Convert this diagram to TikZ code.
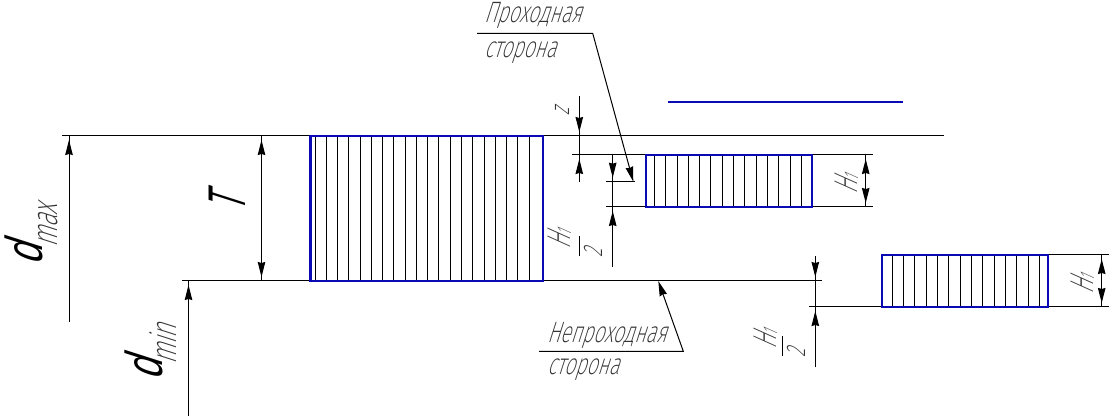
\documentclass[tikz,border=0pt]{standalone}
\usepackage{fontspec}
\usetikzlibrary{arrows.meta}
\newfontfamily\gostthin[FakeSlant=0.32,FakeStretch=0.66]{Fira Sans ExtraLight}
\newfontfamily\gosth[FakeSlant=0.45,FakeStretch=0.62]{Fira Sans ExtraLight}
\newfontfamily\gostd[FakeSlant=0.32,FakeStretch=0.72]{Liberation Sans}
\newfontfamily\gostt[FakeSlant=0.32,FakeStretch=0.5]{Liberation Sans}
\definecolor{hblue}{HTML}{0A0AB4}
\definecolor{tgray}{HTML}{333333}
\newcommand{\subone}{\raisebox{-1pt}{\fontsize{20}{20}\selectfont 1}}
\tikzset{
  thinline/.style={black,line width=1pt},
  headtip/.style={-{Stealth[length=15pt,width=7.5pt,inset=1pt]}},
  dimtip/.style={thinline,headtip,shorten >=4pt},
  leadertip/.style={thinline,headtip},
  bluebox/.style={hblue,line width=2.3pt},
  hatchline/.style={black,line width=1pt},
  txt/.style={inner sep=0pt,outer sep=0pt,text=tgray,font=\gostthin\fontsize{29.5}{29.5}\selectfont},
  rtxt/.style={txt,rotate=90},
  rsmall/.style={rtxt,font=\gostthin\fontsize{27}{27}\selectfont},
  rhh/.style={rtxt,font=\gosth\fontsize{33}{33}\selectfont},
  rsubs/.style={rtxt,font=\gostthin\fontsize{36}{36}\selectfont},
  rd/.style={inner sep=0pt,outer sep=0pt,rotate=90,text=black,font=\gostd\fontsize{52}{52}\selectfont},
  rt/.style={inner sep=0pt,outer sep=0pt,rotate=90,text=black,font=\gostt\fontsize{53}{53}\selectfont},
}
\begin{document}
\begin{tikzpicture}[x=1pt,y=-1pt]
\useasboundingbox (0,0) rectangle (1111,419);
% reference lines
\coordinate (topL) at (62,136); \coordinate (topR) at (944,136);
\coordinate (botL) at (182,281); \coordinate (botR) at (822,281);
\draw[thinline] (topL) -- (topR);
\draw[thinline] (botL) -- (botR);
% extension lines
\coordinate (a1) at (572,155); \coordinate (a2) at (646,155);
\coordinate (a3) at (812,155); \coordinate (a4) at (873,155);
\coordinate (b1) at (606,207); \coordinate (b2) at (646,207);
\coordinate (b3) at (812,207); \coordinate (b4) at (873,207);
\coordinate (c1) at (606,181.7); \coordinate (c2) at (635,181.7);
\coordinate (e1) at (809,307); \coordinate (e2) at (881.5,307);
\coordinate (e3) at (1048,255); \coordinate (e4) at (1109,255);
\coordinate (e5) at (1048,307); \coordinate (e6) at (1109,307);
\draw[thinline] (a1)--(a2) (a3)--(a4) (b1)--(b2) (b3)--(b4) (c1)--(c2) (e1)--(e2) (e3)--(e4) (e5)--(e6);
% hatching
\foreach \i in {0,...,19} \draw[hatchline] ({315+\i*11.27},136) -- ({315+\i*11.27},281);
\foreach \i in {0,...,13} \draw[hatchline] ({654.4+\i*11.31},155) -- ({654.4+\i*11.31},207);
\foreach \i in {0,...,13} \draw[hatchline] ({892.3+\i*11.31},255) -- ({892.3+\i*11.31},307);
% boxes
\draw[bluebox] (310.5,136) rectangle (543,281);
\draw[bluebox] (646,155) rectangle (812,207);
\draw[bluebox] (881.7,255) rectangle (1048.3,307);
\coordinate (bl1) at (668,102); \coordinate (bl2) at (903,102);
\draw[bluebox] (bl1) -- (bl2);
% dimensions
\coordinate (dmaxE) at (69,321.7); \coordinate (dmaxT) at (69,136);
\draw[thinline] (dmaxE) -- (dmaxT); \draw[dimtip] (dmaxE) -- (dmaxT);
\coordinate (dminE) at (188.5,416); \coordinate (dminT) at (188.5,281);
\draw[thinline] (dminE) -- (dminT); \draw[dimtip] (dminE) -- (dminT);
\coordinate (tA) at (261.5,136); \coordinate (tB) at (261.5,281);
\draw[thinline] (tA) -- (tB); \draw[dimtip] (tA) -- (tB); \draw[dimtip] (tB) -- (tA);
% z
\coordinate (zA) at (579.3,96); \coordinate (zB) at (579.3,136);
\coordinate (zC) at (579.3,181.7); \coordinate (zD) at (579.3,155);
\draw[thinline] (zA) -- (zC); \draw[dimtip] (zA) -- (zB); \draw[dimtip] (zC) -- (zD);
% H1/2 upper
\coordinate (hA) at (612.7,155); \coordinate (hB) at (612.7,181.7);
\coordinate (hC) at (612.7,267); \coordinate (hD) at (612.7,207);
\draw[thinline] (hA) -- (hC); \draw[dimtip] (hA) -- (hB); \draw[dimtip] (hC) -- (hD);
% H1 right of the middle box
\coordinate (mA) at (865.7,155); \coordinate (mB) at (865.7,207);
\draw[thinline] (mA) -- (mB); \draw[dimtip] (mA) -- (mB); \draw[dimtip] (mB) -- (mA);
% H1 right of the lower box
\coordinate (rA) at (1101.7,255); \coordinate (rB) at (1101.7,307);
\draw[thinline] (rA) -- (rB); \draw[dimtip] (rA) -- (rB); \draw[dimtip] (rB) -- (rA);
% H1/2 lower
\coordinate (lA) at (815.3,256); \coordinate (lB) at (815.3,281);
\coordinate (lC) at (815.3,367.3); \coordinate (lD) at (815.3,307);
\draw[thinline] (lA) -- (lC); \draw[dimtip] (lA) -- (lB); \draw[dimtip] (lC) -- (lD);
% leaders
\coordinate (p1) at (477,33.3); \coordinate (p2) at (592.7,33.3); \coordinate (p3) at (633.3,181.7);
\draw[leadertip] (p1) -- (p2) -- (p3);
\coordinate (n1) at (539,351.3); \coordinate (n2) at (683.3,351.3); \coordinate (n3) at (658.3,281);
\draw[leadertip] (n1) -- (n2) -- (n3);
% fraction bars
\coordinate (f1a) at (579.3,236); \coordinate (f1b) at (579.3,256);
\coordinate (f2a) at (782.3,336); \coordinate (f2b) at (782.3,356);
\draw[thinline] (f1a) -- (f1b) (f2a) -- (f2b);
% labels
\node[txt,anchor=base west] (prohod) at (484,23) {Проходная};
\node[txt,anchor=base west] (storona1) at (484,58) {сторона};
\node[txt,anchor=base west] (neprohod) at (547,343) {Непроходная};
\node[txt,anchor=base west] (storona2) at (547,375) {сторона};
\node[rd,anchor=base west] (dmax) at (42,266) {d};
\node[rsubs,anchor=base west] (dmaxs) at (57,248) {max};
\node[rd,anchor=base west] (dmin) at (162,381) {d};
\node[rsubs,anchor=base west] (dmins) at (176,365) {min};
\node[rt,anchor=base west] (tlab) at (245,213) {T};
\node[rsmall,anchor=base west] (zlab) at (569,116) {z};
\node[rhh,anchor=base west] (h1a) at (570,250) {H\subone};
\node[rsmall,anchor=base west] (h2a) at (602,258) {2};
\node[rhh,anchor=base west] (h1b) at (776,350) {H\subone};
\node[rsmall,anchor=base west] (h2b) at (805,358) {2};
\node[rhh,anchor=base west] (h1c) at (857,195) {H\subone};
\node[rhh,anchor=base west] (h1d) at (1093,295) {H\subone};
\end{tikzpicture}
\end{document}
